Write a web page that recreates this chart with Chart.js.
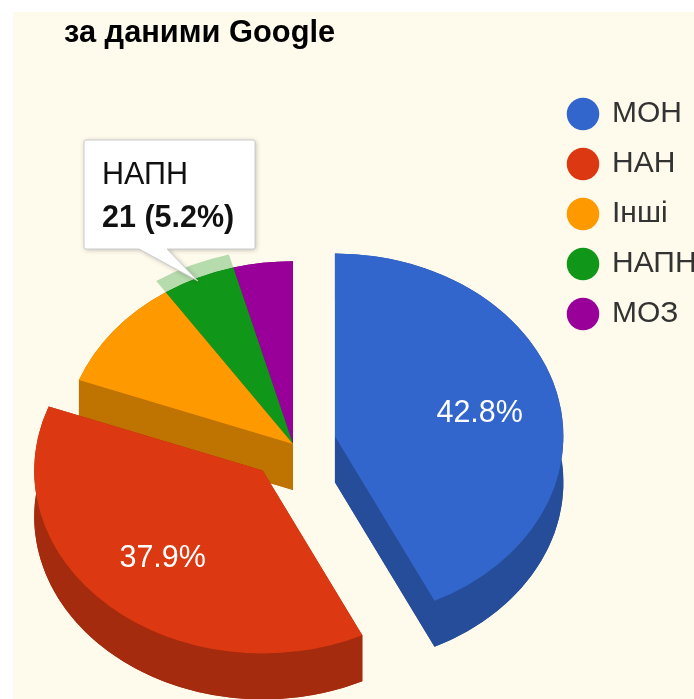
<!DOCTYPE html>
<html>
<head>
<meta charset="utf-8">
<style>html,body{margin:0;padding:0;background:#fff;overflow:hidden}canvas{display:block}</style>
<script src="https://cdn.jsdelivr.net/npm/chart.js@4"></script>
</head>
<body>
<canvas id="c" width="694" height="699"></canvas>
<script>
const titleText = 'за даними Google';
const categories = ['МОН', 'НАН', 'Інші', 'НАПН', 'МОЗ'];
const values = [173, 153, 40, 21, 17];
const colors = ['#3366CC', '#DC3912', '#FF9900', '#109618', '#990099'];
const sideColors = ['#264D99', '#A52B0E', '#BF7300', '#0C7112', '#730073'];
const explode = [43, 45, 0, 0, 0];
const labelledSlices = [0, 1];
const hoveredSlice = 3;

const FONT = '"Liberation Sans", Arial, sans-serif';
const CREAM = '#FEFAEC';
const CX = 293, CY = 444, R = 228.5, SQUASH = 0.8, DEPTH = 46;
const LABEL_NUDGE_Y = {0: 4, 1: 0};

function plainOpts(color) {
  return {backgroundColor: color, borderColor: color, borderWidth: 0, borderAlign: 'center',
          borderRadius: 0, offset: 0, spacing: 0, circular: true, borderDash: [], borderDashOffset: 0,
          borderJoinStyle: 'round', selfJoin: false};
}
function unit(arc) {
  const a = (arc.startAngle + arc.endAngle) / 2;
  return {x: Math.cos(a), y: Math.sin(a)};
}
function apex(arc, i) {
  const u = unit(arc), e = explode[i];
  return {x: CX + u.x * e, y: CY + u.y * e * SQUASH};
}
function paint(ctx, arc, i, color, dy) {
  const saved = arc.options, p = apex(arc, i);
  arc.options = plainOpts(color);
  ctx.save();
  ctx.translate(p.x, p.y + dy);
  ctx.scale(1, SQUASH);
  ctx.translate(-arc.x, -arc.y);
  arc.draw(ctx);
  ctx.restore();
  arc.options = saved;
}
// The extruded side of a slice: the slice at the bottom, its rim and its two radial walls.
function side(ctx, arc, i) {
  const p = apex(arc, i), rx = arc.outerRadius, ry = rx * SQUASH;
  const a0 = arc.startAngle, a1 = arc.endAngle;
  paint(ctx, arc, i, sideColors[i], DEPTH);
  ctx.save();
  ctx.fillStyle = sideColors[i];
  ctx.beginPath();
  ctx.ellipse(p.x, p.y, rx, ry, 0, a0, a1);
  ctx.ellipse(p.x, p.y + DEPTH, rx, ry, 0, a1, a0, true);
  ctx.closePath();
  ctx.fill();
  [a0, a1].forEach(a => {
    const ex = p.x + Math.cos(a) * rx, ey = p.y + Math.sin(a) * ry;
    ctx.beginPath();
    ctx.moveTo(p.x, p.y);
    ctx.lineTo(ex, ey);
    ctx.lineTo(ex, ey + DEPTH);
    ctx.lineTo(p.x, p.y + DEPTH);
    ctx.closePath();
    ctx.fill();
  });
  ctx.restore();
}

const pie3d = {
  id: 'pie3d',
  beforeDraw(chart) {
    const ctx = chart.ctx;
    ctx.save();
    ctx.fillStyle = '#fff';
    ctx.fillRect(0, 0, chart.width, chart.height);
    ctx.fillStyle = CREAM;
    ctx.fillRect(13, 12, chart.width - 13, chart.height - 12);
    ctx.restore();
  },
  afterLayout(chart) {
    const lg = chart.legend;
    lg.left = 549; lg.right = 760; lg.top = 79; lg.bottom = 690;
    const t = chart.titleBlock;
    t.left = 64; t.right = 640; t.top = 34 - 18.5; t.bottom = 34 + 18.5;
  },
  beforeDatasetsDraw(chart) {
    const ctx = chart.ctx, arcs = chart.getDatasetMeta(0).data;
    // rear slices: sides first, then tops
    [4, 3, 2].forEach(i => side(ctx, arcs[i], i));
    [4, 3, 2].forEach(i => paint(ctx, arcs[i], i, colors[i], 0));
    // highlight ring around the hovered slice
    const h = arcs[hoveredSlice], oi = h.innerRadius, oo = h.outerRadius;
    h.innerRadius = oo; h.outerRadius = oo + 17;
    paint(ctx, h, hoveredSlice, 'rgba(16,150,24,0.3)', 0);
    h.innerRadius = oi; h.outerRadius = oo;
    // exploded slices
    [1, 0].forEach(i => { side(ctx, arcs[i], i); paint(ctx, arcs[i], i, colors[i], 0); });
    // percentage labels
    const total = values.reduce((a, b) => a + b, 0);
    ctx.save();
    ctx.fillStyle = '#fff';
    ctx.font = '30.5px ' + FONT;
    ctx.textAlign = 'center';
    ctx.textBaseline = 'middle';
    labelledSlices.forEach(i => {
      const u = unit(arcs[i]), e = explode[i], r = 0.65 * R;
      ctx.fillText((values[i] / total * 100).toFixed(1) + '%',
        CX + u.x * (e + r), CY + u.y * (e + r) * SQUASH + LABEL_NUDGE_Y[i]);
    });
    ctx.restore();
    return false;
  },
  afterDraw(chart) {
    const ctx = chart.ctx;
    const total = values.reduce((a, b) => a + b, 0);
    ctx.save();
    ctx.beginPath();
    ctx.moveTo(86, 140); ctx.lineTo(253, 140);
    ctx.quadraticCurveTo(255, 140, 255, 142);
    ctx.lineTo(255, 247);
    ctx.quadraticCurveTo(255, 249, 253, 249);
    ctx.lineTo(167, 249); ctx.lineTo(198, 281); ctx.lineTo(139, 249);
    ctx.lineTo(86, 249);
    ctx.quadraticCurveTo(84, 249, 84, 247);
    ctx.lineTo(84, 142);
    ctx.quadraticCurveTo(84, 140, 86, 140);
    ctx.closePath();
    ctx.shadowColor = 'rgba(0,0,0,0.25)';
    ctx.shadowBlur = 5;
    ctx.shadowOffsetX = 1; ctx.shadowOffsetY = 1;
    ctx.fillStyle = '#fff';
    ctx.fill();
    ctx.shadowColor = 'transparent';
    ctx.strokeStyle = '#ccc';
    ctx.lineWidth = 1;
    ctx.stroke();
    ctx.fillStyle = '#111';
    ctx.textAlign = 'left';
    ctx.textBaseline = 'middle';
    ctx.font = '30.5px ' + FONT;
    ctx.fillText(categories[hoveredSlice], 102, 176);
    ctx.font = 'bold 30.5px ' + FONT;
    ctx.fillText(values[hoveredSlice] + ' (' + (values[hoveredSlice] / total * 100).toFixed(1) + '%)', 102, 219);
    ctx.restore();
  }
};

new Chart(document.getElementById('c'), {
  type: 'pie',
  data: {
    labels: categories,
    datasets: [{data: values, backgroundColor: colors, borderWidth: 0, radius: R}]
  },
  options: {
    responsive: false,
    animation: false,
    events: [],
    plugins: {
      tooltip: {enabled: false},
      title: {
        display: true, text: titleText, align: 'start', color: '#000',
        font: {family: FONT, size: 30.8, weight: 'bold'}, padding: 0
      },
      legend: {
        position: 'right', align: 'start',
        labels: {
          usePointStyle: true, pointStyle: 'circle', boxWidth: 28, boxHeight: 23, padding: 20,
          color: '#333', font: {family: FONT, size: 30}
        }
      }
    }
  },
  plugins: [pie3d]
});
</script>
</body>
</html>
